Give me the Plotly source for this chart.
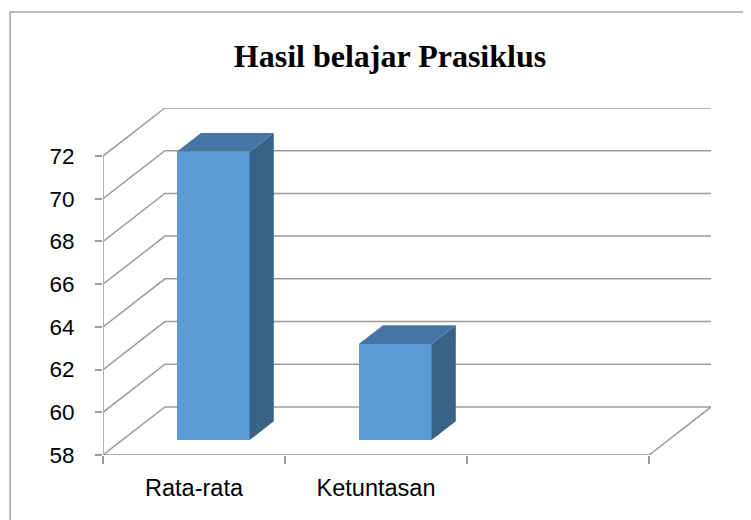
import plotly.graph_objects as go

# ---- data ----
categories = ["Rata-rata", "Ketuntasan", ""]
values = [71.5, 62.5]
y_ticks = [58, 60, 62, 64, 66, 68, 70, 72]
title_text = "Hasil belajar Prasiklus"

# ---- pseudo-3D geometry (data units) ----
Y_MIN, Y_MAX = 58, 72
DX = 0.34      # depth shift along x (category units)
DY = 2.25      # depth shift along y (value units)
F1 = 0.31      # bar front depth fraction
DEPTH = 0.39   # bar depth fraction
BAR_W = 0.40

GRID = "#9C9C9C"
FRONT = "#5B9BD5"
TOP = "#4475A4"
SIDE = "#386288"

# page body has an 8px margin -> compensate
OFF = 8
W, H = 751 - OFF, 520 - OFF
ML, MT = 102.5 - OFF, 108 - OFF
PW, PH = 609, 347

n = len(categories)
x_left = -0.5
x_right = n - 0.5

fig = go.Figure()

shapes = []
for v in y_ticks:
    shapes.append(dict(
        type="path", xref="x", yref="y", layer="below",
        path=f"M {x_left} {v} L {x_left+DX} {v+DY} L {x_right+DX} {v+DY}",
        line=dict(color=GRID, width=1.5)))
shapes.append(dict(type="line", xref="x", yref="y", layer="below",
                   x0=x_left, y0=Y_MIN, x1=x_left, y1=Y_MAX,
                   line=dict(color=GRID, width=1.5)))
shapes.append(dict(
    type="path", xref="x", yref="y", layer="below",
    path=f"M {x_left} {Y_MIN} L {x_right} {Y_MIN} L {x_right+DX} {Y_MIN+DY}",
    line=dict(color=GRID, width=1.5)))
# outer chart border (page px 9.5,12 -> beyond bottom/right)
shapes.append(dict(type="rect", xref="paper", yref="paper",
                   x0=(9.5 - 102.5) / PW, y0=-0.5, x1=1.3, y1=(455 - 12) / PH,
                   line=dict(color="#A6A6A6", width=1.5)))

bdx = DEPTH * DX
bdy = DEPTH * DY
for i, v in enumerate(values):
    xc = i + F1 * DX
    base = Y_MIN + F1 * DY
    top = v + F1 * DY
    x0 = xc - BAR_W / 2
    x1 = xc + BAR_W / 2
    fig.add_trace(go.Scatter(
        x=[x1, x1, x1 + bdx, x1 + bdx, x1],
        y=[base, top, top + bdy, base + bdy, base],
        mode="lines", fill="toself", fillcolor=SIDE,
        line=dict(width=0, color=SIDE), hoverinfo="skip", showlegend=False))
    fig.add_trace(go.Scatter(
        x=[x0, x1, x1 + bdx, x0 + bdx, x0],
        y=[top, top, top + bdy, top + bdy, top],
        mode="lines", fill="toself", fillcolor=TOP,
        line=dict(width=0, color=TOP), hoverinfo="skip", showlegend=False))

fig.add_trace(go.Bar(
    x=[i + F1 * DX for i in range(len(values))],
    y=[v - Y_MIN for v in values],
    base=[Y_MIN + F1 * DY] * len(values),
    width=BAR_W,
    marker=dict(color=FRONT, line=dict(width=0)),
    showlegend=False,
    hovertemplate="%{customdata}: %{text}<extra></extra>",
    customdata=categories[:len(values)],
    text=[str(v) for v in values],
    textposition="none",
))

fig.update_layout(
    width=W, height=H,
    margin=dict(l=ML, r=W - ML - PW, t=MT, b=H - MT - PH, autoexpand=False),
    paper_bgcolor="white", plot_bgcolor="white",
    shapes=shapes,
    showlegend=False,
    bargap=0,
    title=dict(text=f"<b>{title_text}</b>", x=(390 - OFF) / W, xanchor="center",
               xref="container", yref="container", y=1 - (56 - OFF) / H, yanchor="middle",
               font=dict(family="Liberation Serif", size=32, color="black")),
    font=dict(family="Liberation Sans", color="black"),
)

fig.update_xaxes(
    range=[x_left, x_right + DX],
    showgrid=False, zeroline=False, showline=False,
    tickvals=list(range(n)), ticktext=categories, ticks="",
    tickfont=dict(size=23.5, family="Liberation Sans", color="black"),
    ticklabelstandoff=16,
    minor=dict(tickvals=[x_left + k for k in range(n + 1)], ticks="outside",
               ticklen=8, tickwidth=1.5, tickcolor=GRID, showgrid=False),
    fixedrange=True,
)
fig.update_yaxes(
    range=[Y_MIN, Y_MAX + DY],
    showgrid=False, zeroline=False, showline=False,
    tickvals=y_ticks, ticks="outside", ticklen=7, tickwidth=1.5, tickcolor=GRID,
    tickfont=dict(size=22.5, family="Liberation Sans", color="black"),
    ticklabelstandoff=16,
    fixedrange=True,
)

fig.write_html("out.html")
